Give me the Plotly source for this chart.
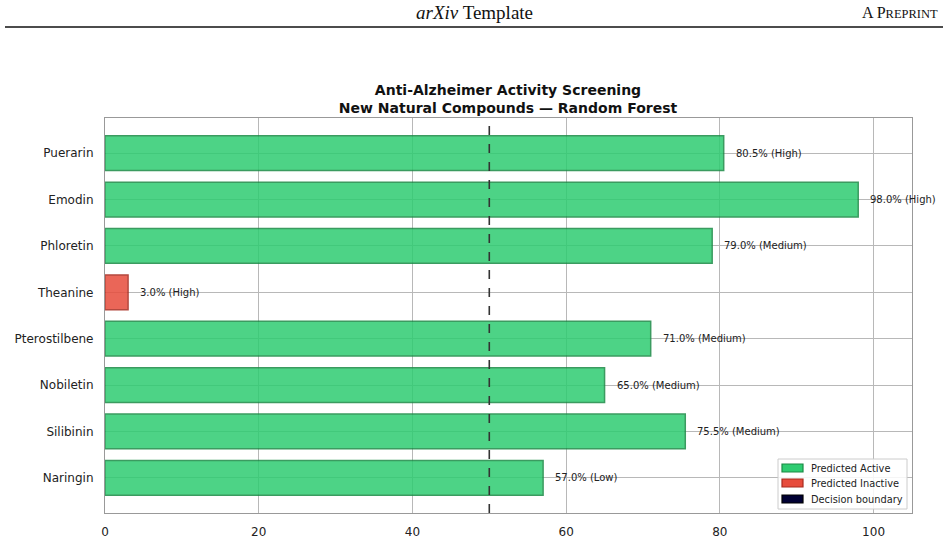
import plotly.graph_objects as go

compounds = ["Puerarin", "Emodin", "Phloretin", "Theanine", "Pterostilbene", "Nobiletin", "Silibinin", "Naringin"]
probabilities = [80.5, 98.0, 79.0, 3.0, 71.0, 65.0, 75.5, 57.0]
confidence = ["High", "High", "Medium", "High", "Medium", "Medium", "Medium", "Low"]
threshold = 50
x_ticks = [0, 20, 40, 60, 80, 100]
legend_labels = ["Predicted Active", "Predicted Inactive", "Decision boundary"]

GREEN = "#2ecc71"
GREEN_EDGE = "#1a8a45"
RED = "#e74c3c"
RED_EDGE = "#a82a1e"
NAVY = "#000033"
FONT = "DejaVu Sans"

W, H = 948, 543
ML, MR, MT, MB = 105, 36, 118, 30
plot_w = W - ML - MR
plot_h = H - MT - MB


def px_x(px):
    return (px - ML) / plot_w


def px_y(py):
    return (H - MB - py) / plot_h


active = [p >= threshold for p in probabilities]
fill = [GREEN if a else RED for a in active]
edge = [GREEN_EDGE if a else RED_EDGE for a in active]
ypos = list(range(len(compounds)))

fig = go.Figure()
fig.add_trace(go.Bar(
    y=ypos, x=probabilities, orientation="h", width=0.75,
    marker=dict(color=fill, line=dict(color=edge, width=1.5)),
    opacity=0.85, showlegend=False, hoverinfo="x+y",
))

fig.add_vline(x=threshold, line=dict(color="#333333", width=1.6, dash="dash"))

for y, p, c in zip(ypos, probabilities, confidence):
    fig.add_annotation(x=p, y=y, xref="x", yref="y", text=f"{p:.1f}% ({c})",
                       showarrow=False, xanchor="left", xshift=10,
                       font=dict(family=FONT, size=10, color="#222222"))

# manual legend (matplotlib style)
fig.add_shape(type="rect", xref="paper", yref="paper",
              x0=px_x(778), x1=px_x(907), y0=px_y(509), y1=px_y(459),
              fillcolor="rgba(255,255,255,0.85)", line=dict(color="#cccccc", width=1), layer="above")
leg_fill = [GREEN, RED, NAVY]
leg_edge = [GREEN_EDGE, RED_EDGE, "#000000"]
row_y = [468, 483, 499]
for lab, fc, ec, ry in zip(legend_labels, leg_fill, leg_edge, row_y):
    fig.add_shape(type="rect", xref="paper", yref="paper",
                  x0=px_x(782), x1=px_x(803), y0=px_y(ry + 4), y1=px_y(ry - 4),
                  fillcolor=fc, line=dict(color=ec, width=1.2), layer="above")
    fig.add_annotation(x=px_x(809), y=px_y(ry), xref="paper", yref="paper", text=lab,
                       showarrow=False, xanchor="left", yanchor="middle",
                       font=dict(family=FONT, size=9.8, color="#222222"))

# page header
fig.add_annotation(x=px_x(474), y=px_y(13), xref="paper", yref="paper", text="<i>arXiv</i> Template",
                   showarrow=False, xanchor="center", yanchor="middle",
                   font=dict(family="Liberation Serif", size=19, color="#111111"))
fig.add_annotation(x=px_x(940), y=px_y(13), xref="paper", yref="paper",
                   text="A P<span style='font-size:12.5px'>REPRINT</span>",
                   showarrow=False, xanchor="right", yanchor="middle",
                   font=dict(family="Liberation Serif", size=16, color="#111111"))
fig.add_shape(type="line", xref="paper", yref="paper",
              x0=px_x(5), x1=px_x(943), y0=px_y(27), y1=px_y(27),
              line=dict(color="#111111", width=1.5))

fig.update_layout(
    width=W, height=H,
    margin=dict(l=ML, r=MR, t=MT, b=MB, autoexpand=False),
    paper_bgcolor="white", plot_bgcolor="white",
    font=dict(family=FONT, color="#222222"),
    title=dict(text="<b>Anti-Alzheimer Activity Screening<br>New Natural Compounds — Random Forest</b>",
               x=508 / W, xanchor="center", y=1 - 95 / H, yanchor="middle",
               font=dict(family=FONT, size=14, color="#111111")),
    showlegend=False,
)

fig.update_xaxes(range=[0, 105], tickvals=x_ticks, showgrid=True, gridcolor="#b8b8b8", gridwidth=1,
                 showline=True, linecolor="#999999", linewidth=1.2, mirror=True, zeroline=False,
                 automargin=False,
                 ticks="", ticklabelstandoff=7, tickfont=dict(family=FONT, size=12, color="#222222"))
fig.update_yaxes(range=[len(compounds) - 1 + 0.76, -0.76], tickvals=ypos, ticktext=compounds,
                 showgrid=True, gridcolor="#b8b8b8", gridwidth=1,
                 showline=True, linecolor="#999999", linewidth=1.2, mirror=True, zeroline=False,
                 automargin=False,
                 ticks="", ticklabelstandoff=8, tickfont=dict(family=FONT, size=12, color="#222222"))

fig.write_html("out.html")
